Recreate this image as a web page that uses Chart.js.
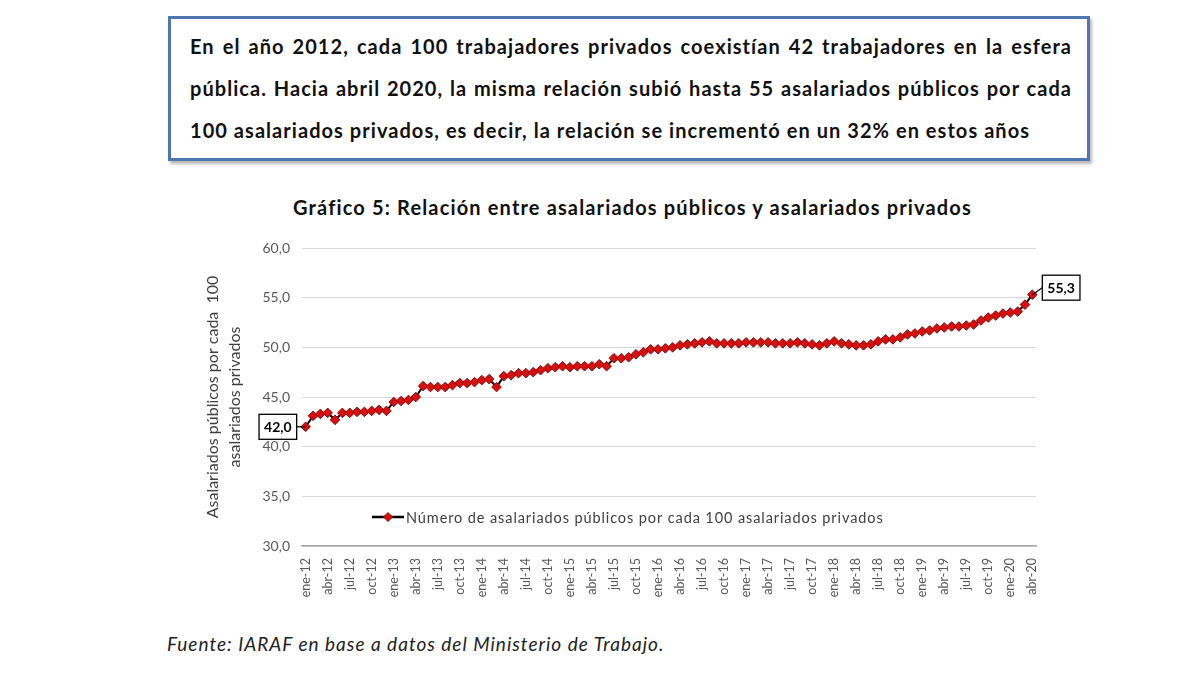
<!DOCTYPE html>
<html lang="es">
<head>
  <meta charset="UTF-8" />
  <title>Gráfico 5: Relación entre asalariados públicos y asalariados privados</title>
  <script src="https://cdn.jsdelivr.net/npm/chart.js"></script>
  <style>
    body { margin: 0; background: #fff; width: 1200px; height: 675px; position: relative; overflow: hidden; font-family: Lato, "Open Sans", sans-serif; }
    #caja {
      position: absolute; left: 168px; top: 16px; width: 922px; height: 145px;
      border: 3px solid #4f76b3; box-shadow: 2px 3px 3px #b9b9b9; box-sizing: border-box;
      padding: 6px 0 0 19px;
    }
    #caja div { font-weight: bold; font-size: 20px; letter-spacing: 1.05px; line-height: 42px; color: #111; width: 882px; text-align: justify; text-align-last: justify; white-space: nowrap; }
    #caja div.ultima { text-align-last: left; }
    #titulo { position: absolute; left: 180px; width: 905px; top: 195px; text-align: center; font-weight: bold; font-size: 20px; letter-spacing: 1.15px; color: #111; }
    #grafico { position: absolute; left: 180px; top: 185px; width: 905px; height: 425px; }
    #fuente { position: absolute; left: 167px; top: 632px; font-style: italic; font-size: 19px; letter-spacing: 1px; color: #222; }
  </style>
</head>
<body>
  <div id="caja">
    <div>En el año 2012, cada 100 trabajadores privados coexistían 42 trabajadores en la esfera</div>
    <div>pública. Hacia abril 2020, la misma relación subió hasta 55 asalariados públicos por cada</div>
    <div class="ultima">100 asalariados privados, es decir, la relación se incrementó en un 32% en estos años</div>
  </div>

  <div id="titulo">Gráfico 5: Relación entre asalariados públicos y asalariados privados</div>
  <div id="grafico"><canvas id="lineChart"></canvas></div>

  <div id="fuente">Fuente: IARAF en base a datos del Ministerio de Trabajo.</div>

  <script>
    const meses = ["ene", "feb", "mar", "abr", "may", "jun", "jul", "ago", "sep", "oct", "nov", "dic"];
    const anios = ["12", "13", "14", "15", "16", "17", "18", "19", "20"];

    // Asalariados públicos por cada 100 privados, ene-12 a abr-20
    const relacion = [
      42.0, 43.1, 43.3, 43.4, 42.7, 43.4, 43.4, 43.5, 43.5, 43.6, 43.7, 43.6,
      44.5, 44.6, 44.7, 45.0, 46.1, 46.0, 46.0, 46.0, 46.2, 46.4, 46.4, 46.5,
      46.7, 46.8, 46.0, 47.1, 47.2, 47.4, 47.4, 47.5, 47.7, 47.9, 48.0, 48.1,
      48.0, 48.1, 48.1, 48.1, 48.3, 48.1, 48.9, 48.9, 49.0, 49.3, 49.5, 49.8,
      49.8, 49.9, 50.0, 50.2, 50.3, 50.4, 50.5, 50.6, 50.4, 50.4, 50.4, 50.4,
      50.5, 50.5, 50.5, 50.5, 50.4, 50.4, 50.4, 50.5, 50.4, 50.3, 50.2, 50.4,
      50.6, 50.4, 50.3, 50.2, 50.2, 50.3, 50.6, 50.8, 50.8, 51.0, 51.3, 51.4,
      51.6, 51.7, 51.9, 52.0, 52.1, 52.1, 52.2, 52.3, 52.7, 53.0, 53.2, 53.4,
      53.5, 53.6, 54.3, 55.3
    ];

    const etiquetas = [];
    anios.forEach(a => meses.forEach(m => etiquetas.push(m + "-" + a)));
    etiquetas.length = relacion.length;

    const nombreSerie = "Número de asalariados públicos por cada 100 asalariados privados";
    const fmt = v => v.toFixed(1).replace(".", ",");

    // etiquetas con recuadro para el primer y último dato
    const recuadros = {
      id: "recuadros",
      afterDatasetsDraw(chart) {
        const ctx = chart.ctx;
        const pts = chart.getDatasetMeta(0).data;
        const data = chart.data.datasets[0].data;
        ctx.save();
        ctx.font = "bold 14px Lato";
        ctx.textBaseline = "middle";
        ctx.textAlign = "center";
        ctx.strokeStyle = "#000";
        ctx.lineWidth = 1.3;

        const caja = (i, lado) => {
          const p = pts[i];
          const txt = fmt(data[i]);
          const w = ctx.measureText(txt).width + 10, h = 25;
          let x, y;
          if (lado === "izq") { x = p.x - 9 - w; y = p.y - h / 2; }
          else { x = p.x + 10; y = p.y - 7 - h / 2; }
          ctx.beginPath();
          ctx.moveTo(p.x, p.y);
          ctx.lineTo(lado === "izq" ? x + w : x, y + h / 2);
          ctx.stroke();
          ctx.fillStyle = "#fff";
          ctx.fillRect(x, y, w, h);
          ctx.strokeRect(x, y, w, h);
          ctx.fillStyle = "#000";
          ctx.fillText(txt, x + w / 2, y + h / 2 + 1);
        };
        caja(0, "izq");
        caja(data.length - 1, "der");
        ctx.restore();
      }
    };

    // leyenda dentro del área del gráfico
    const leyenda = {
      id: "leyenda",
      afterDraw(chart) {
        const ctx = chart.ctx;
        const ds = chart.data.datasets[0];
        const x0 = chart.chartArea.left + 70;
        const y0 = chart.chartArea.bottom - 29;
        ctx.save();
        ctx.strokeStyle = "#000";
        ctx.lineWidth = 2.5;
        ctx.beginPath();
        ctx.moveTo(x0, y0);
        ctx.lineTo(x0 + 32, y0);
        ctx.stroke();
        ctx.fillStyle = ds.pointBackgroundColor;
        ctx.strokeStyle = ds.pointBorderColor;
        ctx.lineWidth = 1;
        ctx.beginPath();
        ctx.moveTo(x0 + 16, y0 - 4.5);
        ctx.lineTo(x0 + 20.5, y0);
        ctx.lineTo(x0 + 16, y0 + 4.5);
        ctx.lineTo(x0 + 11.5, y0);
        ctx.closePath();
        ctx.fill();
        ctx.stroke();
        ctx.fillStyle = "#404040";
        ctx.font = "14.5px Lato";
        ctx.letterSpacing = "0.9px";
        ctx.textBaseline = "middle";
        ctx.fillText(ds.label, x0 + 34, y0 + 1);
        ctx.restore();
      }
    };

    const ctxLine = document.getElementById("lineChart").getContext("2d");
    new Chart(ctxLine, {
      type: "line",
      data: {
        labels: etiquetas,
        datasets: [{
          label: nombreSerie,
          data: relacion,
          borderColor: "#000",
          borderWidth: 2,
          pointStyle: "rectRot",
          pointRadius: 4.8,
          pointBackgroundColor: "#d90f0f",
          pointBorderColor: "#8a0a0a",
          pointBorderWidth: 1,
          tension: 0
        }]
      },
      options: {
        responsive: true,
        maintainAspectRatio: false,
        animation: false,
        layout: { padding: { left: 0, right: 49, top: 63, bottom: 0 } },
        plugins: {
          legend: { display: false },
          tooltip: { enabled: false },
          title: { display: false }
        },
        scales: {
          x: {
            offset: true,
            grid: { display: false },
            border: { display: true, color: "#a6a6a6", width: 1.5 },
            ticks: {
              autoSkip: false,
              maxRotation: 90,
              minRotation: 90,
              padding: 4,
              color: "#595959",
              font: { family: "Lato", size: 12.5 },
              callback: function (v, i) { return i % 3 === 0 ? this.getLabelForValue(v) : ""; }
            },
            afterFit(scale) { scale.height = 64; }
          },
          y: {
            min: 30,
            max: 60,
            border: { display: false },
            grid: { color: "#d9d9d9", lineWidth: 1, drawTicks: false },
            ticks: {
              stepSize: 5,
              padding: 12,
              color: "#595959",
              font: { family: "Lato", size: 14 },
              callback: v => fmt(v)
            },
            title: {
              display: true,
              text: ["Asalariados públicos por cada  100", "asalariados privados"],
              color: "#404040",
              font: { family: "Lato", size: 16, lineHeight: "22px" },
              padding: { top: 22, bottom: 0 }
            },
            afterFit(scale) { scale.width = 122; }
          }
        }
      },
      plugins: [recuadros, leyenda]
    });
  </script>
</body>
</html>
